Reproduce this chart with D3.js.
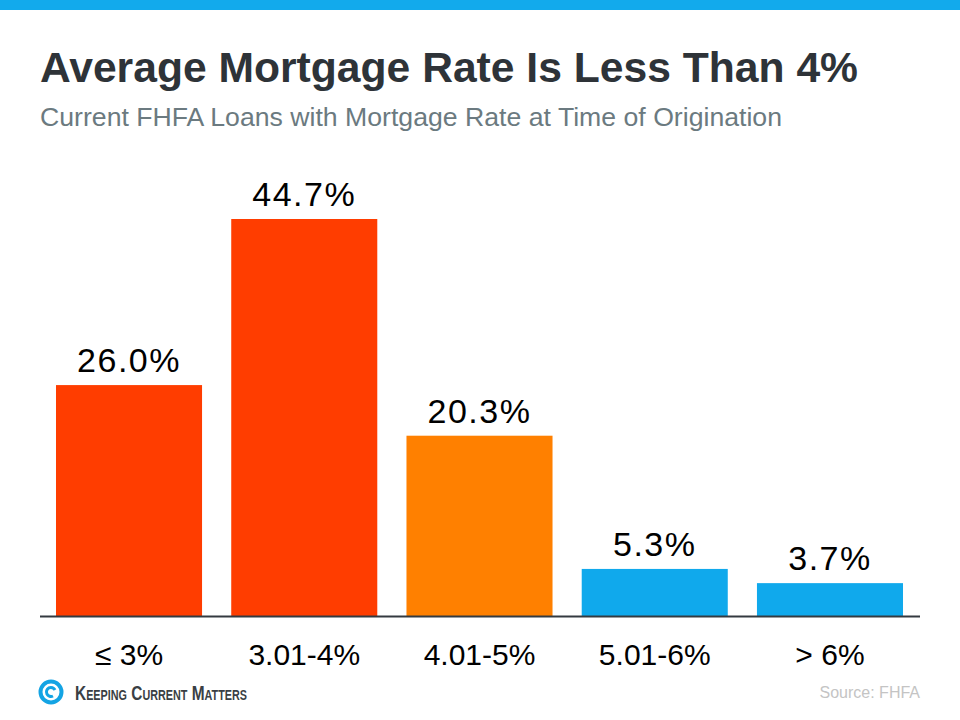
<!DOCTYPE html>
<html>
<head>
<meta charset="utf-8">
<script src="https://cdn.jsdelivr.net/npm/d3@7"></script>
<style>
  body { margin: 0; background: #fff; }
  svg { display: block; font-family: "Liberation Sans", Arial, sans-serif; }
</style>
</head>
<body>
<svg id="chart"></svg>
<script>
(function() {

    const categories = ['≤ 3%', '3.01-4%', '4.01-5%', '5.01-6%', '> 6%'];
    const shares = [26.0, 44.7, 20.3, 5.3, 3.7];
    const barColors = ['#ff3d00', '#ff3d00', '#ff8000', '#10a9ec', '#10a9ec'];

    const w = 960;
    const h = 720;
    const baseY = 616;

    const svg = d3.select('#chart')
        .attr('width', w)
        .attr('height', h);

    // top band
    svg.append('rect')
        .attr('x', 0).attr('y', 0)
        .attr('width', w).attr('height', 10)
        .attr('fill', '#12aaec');

    svg.append('text')
        .attr('x', 40).attr('y', 82)
        .attr('font-size', 43)
        .attr('font-weight', 'bold')
        .attr('fill', '#2e3338')
        .attr('textLength', 818)
        .attr('lengthAdjust', 'spacingAndGlyphs')
        .text('Average Mortgage Rate Is Less Than 4%');

    svg.append('text')
        .attr('x', 40).attr('y', 126)
        .attr('font-size', 25)
        .attr('fill', '#6b7a80')
        .attr('textLength', 742)
        .attr('lengthAdjust', 'spacingAndGlyphs')
        .text('Current FHFA Loans with Mortgage Rate at Time of Origination');

    const x = d3.scaleBand()
        .domain(categories)
        .range([41.4, 917.6])
        .paddingInner(0.1666)
        .paddingOuter(0.0833);

    const y = d3.scaleLinear()
        .domain([0, 44.7])
        .range([baseY, 219]);

    const bars = svg.selectAll('g.bar')
        .data(categories.map((c, i) => ({ cat: c, value: shares[i], color: barColors[i] })))
        .enter()
        .append('g')
        .attr('class', 'bar');

    bars.append('rect')
        .attr('x', d => x(d.cat))
        .attr('y', d => y(d.value))
        .attr('width', x.bandwidth())
        .attr('height', d => baseY - y(d.value))
        .attr('fill', d => d.color);

    bars.append('text')
        .attr('x', d => x(d.cat) + x.bandwidth() / 2)
        .attr('y', d => y(d.value) - 13)
        .attr('text-anchor', 'middle')
        .attr('font-size', 34)
        .attr('letter-spacing', 1.5)
        .attr('fill', '#000')
        .text(d => d.value.toFixed(1) + '%');

    // axis baseline
    svg.append('line')
        .attr('x1', 40).attr('x2', 920)
        .attr('y1', baseY + 0.5).attr('y2', baseY + 0.5)
        .attr('stroke', '#343a40')
        .attr('stroke-width', 2);

    bars.append('text')
        .attr('x', d => x(d.cat) + x.bandwidth() / 2)
        .attr('y', 665)
        .attr('text-anchor', 'middle')
        .attr('font-size', 30)
        .attr('fill', '#000')
        .text(d => d.cat);

    // logo
    const logo = svg.append('g').attr('transform', 'translate(51,692)');
    logo.append('circle').attr('r', 10.5).attr('fill', 'none').attr('stroke', '#14a4e4').attr('stroke-width', 4);
    logo.append('path')
        .attr('d', 'M4,-2 A4.5,4.5 0 1 0 2,4')
        .attr('fill', 'none').attr('stroke', '#14a4e4').attr('stroke-width', 3);

    svg.append('text')
        .attr('x', 75).attr('y', 700)
        .attr('font-size', 20)
        .attr('font-weight', 'bold')
        .attr('font-variant', 'small-caps')
        .attr('fill', '#3a3f44')
        .attr('textLength', 172)
        .attr('lengthAdjust', 'spacingAndGlyphs')
        .text('Keeping Current Matters');

    svg.append('text')
        .attr('x', 920).attr('y', 698)
        .attr('text-anchor', 'end')
        .attr('font-size', 16)
        .attr('fill', '#c4c4c4')
        .text('Source: FHFA');

})();
</script>
</body>
</html>
